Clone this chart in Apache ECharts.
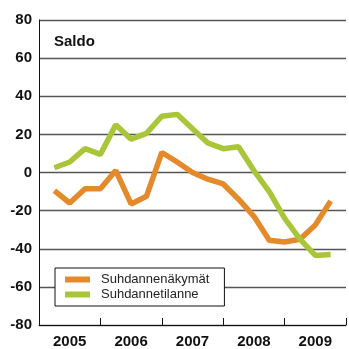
<!DOCTYPE html>
<html>
<head>
<meta charset="utf-8">
<script src="https://cdn.jsdelivr.net/npm/echarts@6/dist/echarts.min.js"></script>
<style>
  html, body { margin: 0; padding: 0; background: #fff; }
  #chart { width: 349px; height: 349px; }
</style>
</head>
<body>
<div id="chart"></div>
<script>
// Quarterly balance figures, 2005Q1 to 2009Q3
const quarters = [
  '2005Q1', '2005Q2', '2005Q3', '2005Q4',
  '2006Q1', '2006Q2', '2006Q3', '2006Q4',
  '2007Q1', '2007Q2', '2007Q3', '2007Q4',
  '2008Q1', '2008Q2', '2008Q3', '2008Q4',
  '2009Q1', '2009Q2', '2009Q3'
];
const years = ['2005', '2006', '2007', '2008', '2009'];
const suhdannenakymat = [-9.5, -16, -8.5, -8.5, 1, -16.5, -12.5, 10.5, 5.5, 0, -3.5, -6, -14, -23, -35.5, -36.5, -35, -27.5, -15];
const suhdannetilanne = [2.5, 5.5, 12.5, 9.5, 25, 17.5, 20.5, 29.5, 30.5, 23, 15.5, 12.5, 13.5, 1, -10, -24, -35, -43.5, -43];
const yTicks = [-80, -60, -40, -20, 0, 20, 40, 60, 80];

// x position of a quarter: the end of that quarter, counted in quarters from 2005
function quarterPos(q) {
  const y = parseInt(q.slice(0, 4), 10);
  const n = parseInt(q.slice(5), 10);
  return (y - 2005) * 4 + n;
}

const FONT = '"Liberation Sans", Arial, Helvetica, sans-serif';
const ORANGE = '#E58A2B';
const GREEN = '#A8C637';

const chart = echarts.init(document.getElementById('chart'), null, { renderer: 'canvas' });

chart.setOption({
  animation: false,
  backgroundColor: '#fff',
  title: {
    text: 'Saldo',
    left: 54,
    top: 34,
    padding: 0,
    textStyle: { fontFamily: FONT, fontSize: 15, fontWeight: 'bold', color: '#111' }
  },
  legend: {
    orient: 'vertical',
    left: 55,
    top: 268,
    padding: [5, 15, 5, 10],
    itemGap: 2,
    itemWidth: 25,
    itemHeight: 6,
    icon: 'rect',
    backgroundColor: '#fff',
    borderColor: '#111',
    borderWidth: 1,
    borderRadius: 0,
    textStyle: { fontFamily: FONT, fontSize: 13, color: '#222', padding: [0, 0, 0, 6] },
    data: ['Suhdannenäkymät', 'Suhdannetilanne']
  },
  grid: { left: 39, right: -3, top: 20, bottom: 20, containLabel: false },
  xAxis: [
    {
      // year boundaries: axis line and inward ticks
      type: 'value',
      min: 0,
      max: years.length * 4,
      interval: 4,
      position: 'bottom',
      axisLine: { show: true, onZero: false, lineStyle: { color: '#111', width: 1 } },
      axisTick: { show: true, inside: true, length: 7, lineStyle: { color: '#111', width: 1 } },
      axisLabel: { show: false },
      splitLine: { show: false }
    },
    {
      // year labels centred in each year
      type: 'value',
      min: 0,
      max: years.length * 4,
      interval: 2,
      position: 'bottom',
      axisLine: { show: false, onZero: false },
      axisTick: { show: false },
      splitLine: { show: false },
      axisLabel: {
        show: true,
        margin: 9,
        fontFamily: FONT,
        fontSize: 15,
        fontWeight: 'bold',
        color: '#111',
        showMinLabel: true,
        showMaxLabel: true,
        formatter: function (v) {
          return (v % 4 === 2) ? years[(v - 2) / 4] : '';
        }
      }
    }
  ],
  yAxis: {
    type: 'value',
    min: yTicks[0],
    max: yTicks[yTicks.length - 1],
    interval: 20,
    axisLine: { show: true, onZero: false, lineStyle: { color: '#111', width: 1 } },
    axisTick: { show: false },
    axisLabel: {
      margin: 7,
      fontFamily: FONT,
      fontSize: 15,
      fontWeight: 'bold',
      color: '#111'
    },
    splitLine: { show: true, lineStyle: { color: '#555', width: 1.3 } }
  },
  series: [
    {
      name: 'Suhdannenäkymät',
      type: 'line',
      xAxisIndex: 0,
      symbol: 'none',
      color: ORANGE,
      lineStyle: { color: ORANGE, width: 5.5 },
      data: suhdannenakymat.map((v, i) => [quarterPos(quarters[i]), v])
    },
    {
      name: 'Suhdannetilanne',
      type: 'line',
      xAxisIndex: 0,
      symbol: 'none',
      color: GREEN,
      lineStyle: { color: GREEN, width: 5.5 },
      data: suhdannetilanne.map((v, i) => [quarterPos(quarters[i]), v])
    }
  ]
});
</script>
</body>
</html>
